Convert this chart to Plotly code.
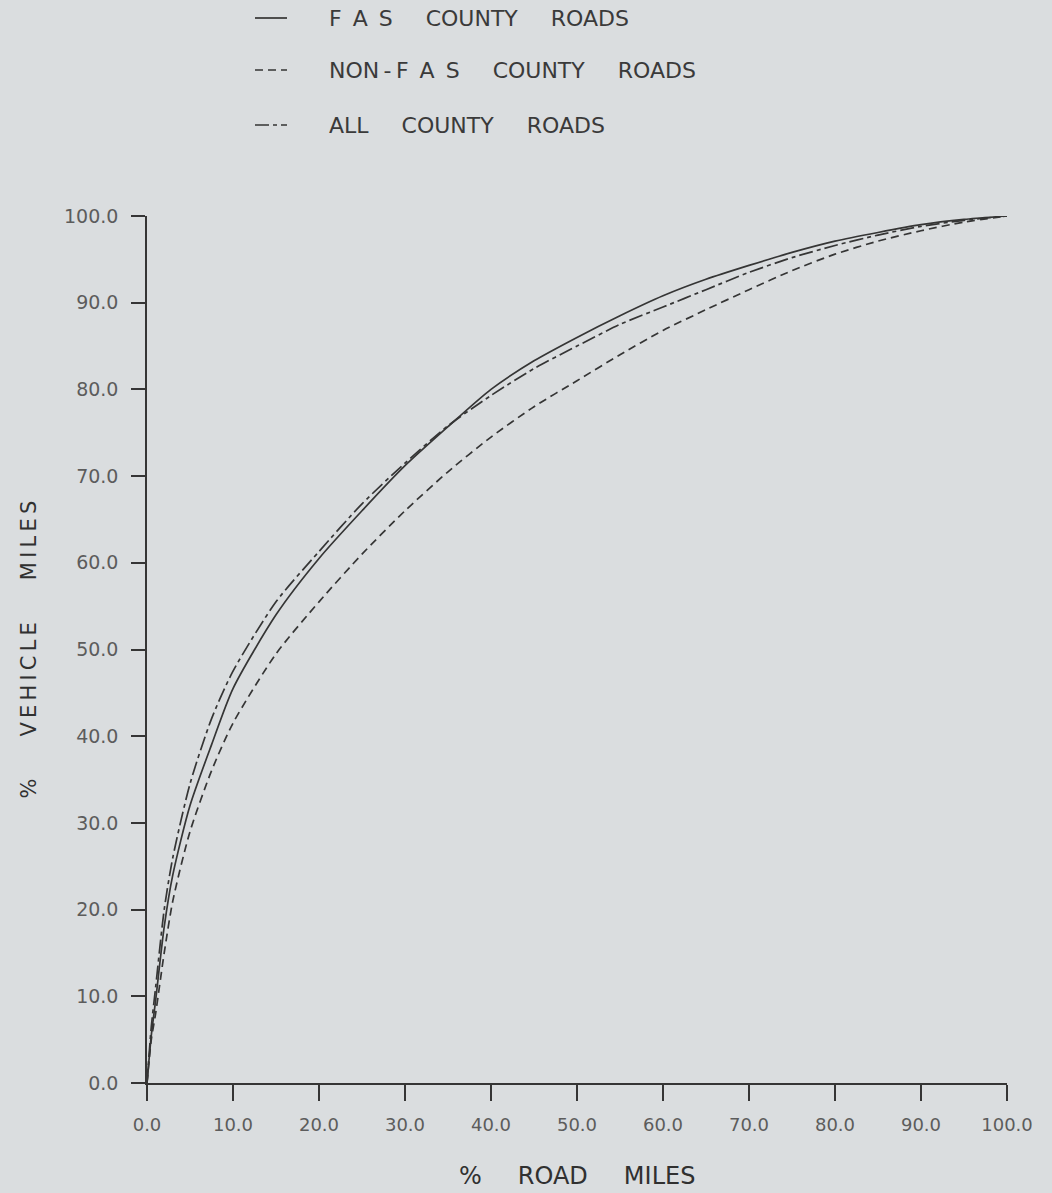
import plotly.graph_objects as go

# ---------------- data ----------------
road_miles_pct = [0, 0.5, 1, 2, 3, 5, 7.5, 10, 15, 20, 25, 30, 35, 40, 45, 50,
                  55, 60, 65, 70, 75, 80, 85, 90, 95, 100]
fas_vehicle_pct = [0, 5.5, 9.5, 18, 24, 32, 39, 45.5, 54, 60.5, 66, 71.2, 75.7, 80, 83.3, 86,
                   88.5, 90.8, 92.7, 94.3, 95.8, 97.1, 98.1, 99.0, 99.6, 100]
nonfas_vehicle_pct = [0, 5, 8, 15, 21, 29, 36, 41.5, 49.5, 55.5, 61, 66, 70.5, 74.5, 78, 81,
                      84, 86.8, 89.2, 91.5, 93.7, 95.6, 97.1, 98.3, 99.3, 100]
all_vehicle_pct = [0, 6.5, 11, 20, 26, 34.5, 42, 47.5, 55.5, 61.3, 66.8, 71.5, 75.8, 79.3, 82.4, 85,
                   87.5, 89.5, 91.5, 93.5, 95.2, 96.6, 97.8, 98.8, 99.5, 100]

EN, TH = "\u2002", "\u2009"
series_names = [
    "F" + EN + "A" + EN + "S" + EN * 3 + "COUNTY" + EN * 3 + "ROADS",
    "NON" + TH + "-" + TH + "F" + EN + "A" + EN + "S" + EN * 3 + "COUNTY" + EN * 3 + "ROADS",
    "ALL" + EN * 3 + "COUNTY" + EN * 3 + "ROADS",
]
x_tick_vals = [0, 10, 20, 30, 40, 50, 60, 70, 80, 90, 100]
y_tick_vals = [0, 10, 20, 30, 40, 50, 60, 70, 80, 90, 100]
x_title = "%" + EN * 3 + "ROAD" + EN * 3 + "MILES"
y_title = "%" + EN * 4 + TH.join("VEHICLE") + EN * 4 + TH.join("MILES")

# ---------------- style ----------------
BG = "#dadddf"
INK = "#353535"
LABEL = "#5c5c5c"
FONT = "DejaVu Sans, Verdana, sans-serif"
W, H = 1052, 1193
L, R, T, B = 147, 45, 216, 110
PW, PH = W - L - R, H - T - B

dashes = ["solid", "8px,5px", "14px,4px,4px,4px"]
series_vals = [fas_vehicle_pct, nonfas_vehicle_pct, all_vehicle_pct]

fig = go.Figure()
for name, vals, dash in zip(series_names, series_vals, dashes):
    fig.add_trace(go.Scatter(
        x=road_miles_pct, y=vals, mode="lines", name=name,
        line=dict(color=INK, width=1.7, dash=dash, shape="spline", smoothing=0.7),
        cliponaxis=False, showlegend=False,
    ))

def px_x(px):
    return (px - L) / PW

def px_y(py):
    return (H - B - py) / PH

# custom legend (sample line + label), positioned in paper space
legend_rows_y = [18, 70, 125]
shapes = []
annotations = []
for name, dash, ry in zip(series_names, dashes, legend_rows_y):
    shapes.append(dict(type="line", xref="paper", yref="paper",
                       x0=px_x(255), x1=px_x(287), y0=px_y(ry), y1=px_y(ry),
                       line=dict(color=INK, width=1.7, dash=dash)))
    annotations.append(dict(xref="paper", yref="paper", x=px_x(327), y=px_y(ry),
                            text=name, showarrow=False, xanchor="left", yanchor="middle",
                            font=dict(family=FONT, size=22, color="#3a3a3a")))

annotations.append(dict(xref="paper", yref="paper", x=0.5, y=px_y(1176),
                        text=x_title, showarrow=False, xanchor="center", yanchor="middle",
                        font=dict(family=FONT, size=24, color="#303030")))
annotations.append(dict(xref="paper", yref="paper", x=px_x(28), y=0.5,
                        text=y_title, showarrow=False, textangle=-90,
                        xanchor="center", yanchor="middle",
                        font=dict(family=FONT, size=21, color="#303030")))

fig.update_layout(
    width=W, height=H,
    margin=dict(l=L, r=R, t=T, b=B, autoexpand=False),
    paper_bgcolor=BG, plot_bgcolor=BG,
    shapes=shapes, annotations=annotations,
    showlegend=False,
)
fig.update_xaxes(
    range=[0, 100], tickvals=x_tick_vals, tickformat=".1f",
    showgrid=False, zeroline=False, showline=True, linecolor=INK, linewidth=1.5,
    ticks="outside", ticklen=16, tickwidth=1.5, tickcolor=INK,
    ticklabelstandoff=9,
    tickfont=dict(family=FONT, size=18, color=LABEL),
)
fig.update_yaxes(
    range=[0, 100], tickvals=y_tick_vals, tickformat=".1f",
    showgrid=False, zeroline=False, showline=True, linecolor=INK, linewidth=1.5,
    ticks="outside", ticklen=14, tickwidth=1.5, tickcolor=INK,
    ticklabelstandoff=9,
    tickfont=dict(family=FONT, size=19, color=LABEL),
)

fig.write_html(
    "out.html",
    config={"displayModeBar": False},
    post_script="document.body.style.margin='0';document.body.style.background='" + BG + "';",
)
